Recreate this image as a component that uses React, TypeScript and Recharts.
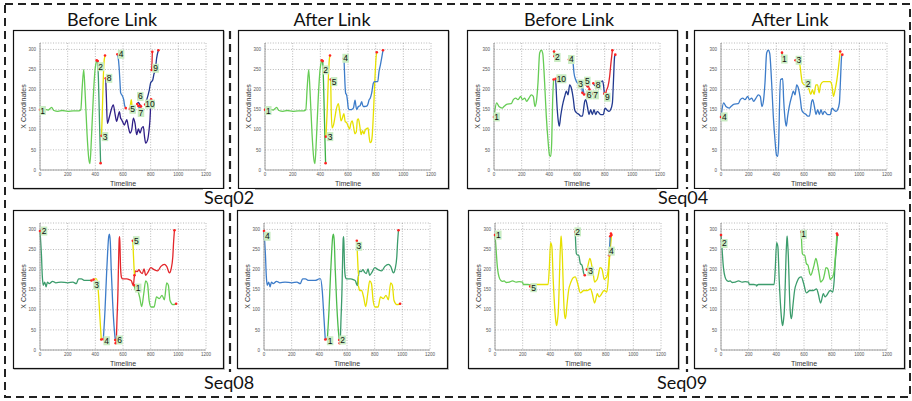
import React from 'react';
import { LineChart, Line, XAxis, YAxis, CartesianGrid, ReferenceDot } from 'recharts';

type P = [number, number];

// ---------- axes ----------
const X_TICKS = [0, 200, 400, 600, 800, 1000, 1200];
const Y_TICKS = [0, 50, 100, 150, 200, 250, 300];
const X_DOMAIN: [number, number] = [0, 1200];
const Y_DOMAIN: [number, number] = [0, 316];

// ---------- Seq02 ----------
const s02Green: P[] = [[0,150],[30,151],[60,149],[84,156],[100,148],[130,146],[160,148],[200,146],[240,147],[280,147],[295,150],[305,205],[316,250],[325,200],[340,90],[352,30],[361,16],[372,80],[385,180],[398,250],[410,273]];
const s02Teal2: P[] = [[417,271],[422,230],[428,150],[433,80],[438,17]];
const s02Yellow3: P[] = [[445,85],[450,140],[456,210],[462,265],[470,285]];
const s02Blue4: P[] = [[559,288],[565,280],[572,255],[578,220],[583,192],[595,185],[605,175],[612,160],[620,154]];
const s02Yellow5: P[] = [[650,152],[655,165],[660,175],[665,160],[670,150]];
const s02Navy6: P[] = [[703,164],[710,168],[718,165],[725,160]];
const s02Blue7: P[] = [[711,159],[720,155],[730,158]];
const s02Indigo8: P[] = [[475,228],[480,180],[487,116],[500,130],[515,150],[530,162],[542,140],[554,121],[565,135],[574,145],[582,130],[590,125],[600,118],[610,112],[620,120],[627,125],[640,105],[651,92],[663,100],[675,129],[687,116],[699,88],[711,102],[723,92],[735,104],[747,108],[755,85],[764,67],[778,75],[790,105],[795,125],[800,160],[803,176]];
const s02Red9: P[] = [[807,249],[810,270],[812,294]];
const s02Navy10: P[] = [[760,163],[771,174],[790,199],[800,217],[815,224],[824,239],[834,250],[843,278],[856,298]];
const s02aYellow3: P[] = [[440,83],[450,150],[458,230],[465,275],[470,285]];
const s02aYellow5: P[] = [[475,225],[478,160],[485,105],[495,112],[505,130],[515,150],[530,165],[540,145],[550,122],[560,130],[570,140],[580,120],[590,118],[600,110],[612,102],[620,115],[630,122],[640,108],[650,90],[660,95],[668,125],[675,127],[685,110],[695,88],[705,98],[715,90],[725,100],[735,103],[745,105],[752,85],[760,68],[768,70],[775,85],[785,150],[795,230],[803,280],[808,293]];
const s02aBlue: P[] = [[571,278],[574,250],[578,215],[583,191],[590,187],[597,170],[602,154],[610,150],[620,150],[632,152],[640,155],[651,174],[657,160],[663,150],[675,158],[687,160],[699,170],[705,162],[711,158],[722,158],[735,159],[745,165],[752,174],[762,180],[771,191],[783,216],[792,220],[800,220],[815,220],[824,245],[834,261],[843,278],[853,298]];

// ---------- Seq04 ----------
const s04Green: P[] = [[0,132],[5,145],[19,167],[36,158],[60,154],[72,158],[96,164],[125,165],[140,175],[157,179],[173,175],[193,183],[205,175],[222,179],[236,171],[253,179],[270,187],[284,183],[296,158],[308,175],[318,217],[330,291],[342,298],[352,291],[366,217],[378,134],[390,76],[402,36],[410,34],[417,67],[424,175],[431,225]];
const s04Teal2: P[] = [[434,295],[437,283]];
const s04Navy10: P[] = [[446,227],[453,175],[465,121],[472,109],[482,134],[494,159],[511,183],[523,196],[535,187],[547,212],[559,204],[574,175],[583,150],[598,142],[615,138],[627,134],[639,134],[656,171],[663,175],[675,158],[687,138],[699,150],[711,138],[723,150],[735,138],[747,146],[771,138],[790,138],[803,154],[815,150],[831,146],[843,150],[856,167],[863,217],[872,283],[877,287]];
const s04Blue4: P[] = [[542,275],[557,272],[571,266],[578,242],[590,225],[602,217],[622,212],[634,207],[639,192]];
const s04Blue3: P[] = [[639,212],[645,200],[651,188]];
const s04Red5: P[] = [[666,212],[675,206],[682,210],[690,200]];
const s04Blue6: P[] = [[672,190],[680,192],[686,186]];
const s04Blue7: P[] = [[715,190],[725,195],[730,188]];
const s04Navy8: P[] = [[718,216],[730,210],[745,214],[760,218],[775,220],[785,222],[792,210],[798,190]];
const s04Red9: P[] = [[807,191],[815,200],[824,208],[836,233],[843,258],[856,298]];
const s04aGreen1: P[] = [[441,292],[443,283]];
const s04aYellow: P[] = [[539,273],[555,270],[568,266],[578,240],[588,217],[605,212],[620,212],[637,200],[649,188],[661,200],[673,188],[686,212],[698,212],[710,192],[720,212],[740,220],[765,220],[789,220],[801,212],[813,183],[825,200],[838,225],[850,258],[862,295]];

// ---------- Seq08 ----------
const s08Teal2: P[] = [[0,296],[5,270],[10,240],[17,182],[24,161],[34,169],[44,157],[54,169],[66,165],[91,171],[115,167],[152,169],[201,167],[238,169],[262,165],[279,177],[299,177],[323,173],[348,173],[372,173]];
const s08Yellow3: P[] = [[387,175],[398,177],[409,177],[421,148],[433,82],[443,26]];
const s08Blue4: P[] = [[458,27],[470,100],[480,180],[490,250],[497,283],[502,288],[508,270],[515,200],[525,120],[535,60],[544,25]];
const s08Red6: P[] = [[547,17],[551,23],[557,80],[563,140],[568,220],[573,278],[576,282],[579,250],[583,200],[590,180],[598,177],[615,177],[629,177],[645,175],[661,172],[668,165],[675,160],[681,180],[691,197],[703,195],[715,200],[728,193],[740,190],[752,202],[764,186],[781,194],[801,205],[825,200],[850,197],[874,208],[899,213],[916,208],[936,192],[948,202],[960,232],[966,270],[972,298]];
const s08Yellow5: P[] = [[671,272],[675,240],[679,210],[683,186]];
const s08Green1: P[] = [[681,161],[691,148],[705,148],[720,132],[735,108],[750,140],[764,172],[777,165],[789,123],[803,107],[825,107],[842,132],[862,128],[882,136],[899,125],[916,167],[928,161],[940,123],[960,113],[984,115]];

// ---------- Seq09 ----------
const s09Green1: P[] = [[0,286],[5,265],[10,240],[15,215],[20,198],[29,182],[42,173],[55,171],[66,172],[80,168],[103,169],[127,172],[152,169],[175,170],[200,169],[203,163],[238,163],[262,161]];
const s09Yellow5: P[] = [[255,158],[270,163],[300,163],[340,163],[384,163],[392,200],[402,267],[411,257],[421,173],[433,98],[440,70],[446,61],[452,75],[458,98],[465,170],[470,232],[475,270],[478,283],[482,265],[487,232],[495,140],[500,100],[507,78],[513,85],[519,107],[532,148],[549,169],[565,180],[580,182],[598,165],[617,142],[642,148],[666,148],[691,152],[703,140],[720,117],[740,140],[752,132],[764,136],[789,148],[808,144],[818,173],[825,215],[835,257],[842,286]];
const s09Teal2: P[] = [[580,294],[584,260],[588,240],[598,236],[605,236],[617,215],[629,211],[642,190],[649,186]];
const s09Yellow3: P[] = [[664,200],[672,210],[686,228],[695,218],[703,203],[712,185],[720,169],[730,172],[740,177],[750,192],[759,205],[768,204],[776,198],[783,185],[789,175],[798,178],[808,182],[818,198],[825,225],[833,262],[838,290]];
const s09Blue4: P[] = [[825,236],[829,260],[833,283]];

// ---------- tags (label centre t, value, text) ----------
type Tag = [number, number, string];
const tags02b: Tag[] = [[19,148,'1'],[439,257,'2'],[470,83,'3'],[586,288,'4'],[670,151,'5'],[725,183,'6'],[730,143,'7'],[499,228,'8'],[836,253,'9'],[795,164,'10']];
const tags02a: Tag[] = [[24,148,'1'],[438,249,'2'],[470,83,'3'],[583,278,'4'],[499,220,'5']];
const tags04b: Tag[] = [[19,132,'1'],[458,280,'2'],[627,214,'3'],[559,275,'4'],[675,221,'5'],[687,187,'6'],[735,187,'7'],[752,212,'8'],[819,181,'9'],[487,227,'10']];
const tags04a: Tag[] = [[458,276,'1'],[629,215,'2'],[563,273,'3'],[24,132,'4']];
const tags08b: Tag[] = [[710,154,'1'],[29,296,'2'],[409,161,'3'],[482,23,'4'],[696,272,'5'],[575,25,'6']];
const tags08a: Tag[] = [[478,23,'1'],[568,25,'2'],[686,258,'3'],[24,283,'4']];
const tags09b: Tag[] = [[24,286,'1'],[598,294,'2'],[691,196,'3'],[842,246,'4'],[279,155,'5']];
const tags09a: Tag[] = [[598,288,'1'],[24,265,'2']];

const C = {
  light: '#66cc55', teal: '#3c9c6c', green: '#4cbb4c', dgreen: '#3cb043', yellow: '#e6e000',
  blue: '#3d7cc9', navy: '#22398f', indigo: '#2f1f87', red: '#e3262b',
};

interface Track { pts: P[]; color: string }
interface PanelSpec { left: number; top: number; tracks: Track[]; tags: Tag[] }

const panels: PanelSpec[] = [
  { left: 13, top: 30, tags: tags02b, tracks: [
    { pts: s02Green, color: C.light }, { pts: s02Teal2, color: C.teal }, { pts: s02Yellow3, color: C.yellow },
    { pts: s02Blue4, color: C.blue }, { pts: s02Indigo8, color: C.indigo }, { pts: s02Yellow5, color: C.yellow },
    { pts: s02Navy6, color: C.navy }, { pts: s02Blue7, color: C.blue }, { pts: s02Navy10, color: C.navy },
    { pts: s02Red9, color: C.red } ] },
  { left: 238, top: 30, tags: tags02a, tracks: [
    { pts: s02Green, color: C.light }, { pts: s02Teal2, color: C.dgreen }, { pts: s02aYellow3, color: C.yellow },
    { pts: s02aYellow5, color: C.yellow }, { pts: s02aBlue, color: C.blue } ] },
  { left: 467, top: 30, tags: tags04b, tracks: [
    { pts: s04Green, color: C.light }, { pts: s04Teal2, color: C.light }, { pts: s04Navy10, color: C.navy },
    { pts: s04Blue4, color: C.blue }, { pts: s04Blue3, color: C.blue }, { pts: s04Navy8, color: C.navy },
    { pts: s04Red5, color: C.red }, { pts: s04Blue6, color: C.blue }, { pts: s04Blue7, color: C.blue },
    { pts: s04Red9, color: C.red } ] },
  { left: 694, top: 30, tags: tags04a, tracks: [
    { pts: [...s04Green, ...s04Navy10], color: C.blue }, { pts: s04aGreen1, color: C.light },
    { pts: s04aYellow, color: C.yellow } ] },
  { left: 13, top: 210, tags: tags08b, tracks: [
    { pts: s08Teal2, color: C.teal }, { pts: s08Yellow3, color: C.yellow }, { pts: s08Blue4, color: C.blue },
    { pts: s08Red6, color: C.red }, { pts: s08Yellow5, color: C.yellow }, { pts: s08Green1, color: C.light } ] },
  { left: 237, top: 210, tags: tags08a, tracks: [
    { pts: [...s08Teal2, ...s08Yellow3], color: C.blue }, { pts: s08Blue4, color: C.green },
    { pts: s08Red6, color: C.teal }, { pts: [...s08Yellow5, ...s08Green1], color: C.yellow } ] },
  { left: 468, top: 210, tags: tags09b, tracks: [
    { pts: s09Green1, color: C.light }, { pts: s09Yellow5, color: C.yellow }, { pts: s09Teal2, color: C.teal },
    { pts: s09Yellow3, color: C.yellow }, { pts: s09Blue4, color: C.blue } ] },
  { left: 694, top: 210, tags: tags09a, tracks: [
    { pts: [...s09Green1, ...s09Yellow5], color: C.teal }, { pts: [...s09Teal2, ...s09Yellow3], color: C.light } ] },
];

const headers: [number, string][] = [[112, 'Before Link'], [332, 'After Link'], [569, 'Before Link'], [790, 'After Link']];
const seqLabels: [number, number, string][] = [[204, 204, 'Seq02'], [658, 204, 'Seq04'], [204, 389, 'Seq08'], [657, 389, 'Seq09']];

const PW = 210;
const PH = 158;
const M = { top: 13, right: 17, bottom: 0, left: 5 };
const YW = 22;
const XH = 18;
const SANS = 'Liberation Sans, Arial, sans-serif';
const TITLE = 'Lato, "Open Sans", sans-serif';

const toData = (pts: P[]) => pts.map(([t, v]) => ({ t, v }));

const XTitle = (props: any) => {
  const vb = props.viewBox || {};
  const x = vb.width != null ? vb.x + vb.width / 2 : M.left + YW + (PW - M.left - YW - M.right) / 2;
  const y = vb.y != null ? vb.y + 15.5 : PH - 2.5;
  return <text x={x} y={y} textAnchor="middle" fontSize={7} fill="#333" fontFamily={SANS}>Timeline</text>;
};

const YTitle = (props: any) => {
  const vb = props.viewBox || {};
  const cy = vb.height != null ? vb.y + vb.height / 2 : M.top + (PH - M.top - XH) / 2;
  return (
    <text transform={`translate(10,${cy}) rotate(-90)`} textAnchor="middle" dominantBaseline="central" fontSize={7} fill="#333" fontFamily={SANS}>
      X Coordinates
    </text>
  );
};

const tagShape = (text: string) => (p: any) => {
  const w = text.length > 1 ? 10 : 6.5;
  const h = 9;
  return (
    <g>
      <rect x={p.cx - w / 2} y={p.cy - h / 2} width={w} height={h} fill="#c9ecc2" />
      <text x={p.cx} y={p.cy} dy={3} textAnchor="middle" fontSize={8.5} fill="#111" fontFamily={SANS}>{text}</text>
    </g>
  );
};

function Panel({ spec }: { spec: PanelSpec }) {
  const ends: P[] = [];
  spec.tracks.forEach((tr) => { ends.push(tr.pts[0]); ends.push(tr.pts[tr.pts.length - 1]); });
  return (
    <div style={{ position: 'absolute', left: spec.left, top: spec.top, width: PW, height: PH }}>
      <LineChart width={PW} height={PH} margin={M}>
        <CartesianGrid stroke="#8a8a8a" strokeDasharray="1 1.6" strokeWidth={0.6} />
        <XAxis type="number" dataKey="t" domain={X_DOMAIN} ticks={X_TICKS} interval={0} height={XH}
          tickLine={false} tickSize={1} tickMargin={2} axisLine={{ stroke: '#8a8a8a', strokeWidth: 0.8 }}
          tick={{ fontSize: 4.5, fill: '#555', fontFamily: SANS }} label={<XTitle />} />
        <YAxis type="number" dataKey="v" domain={Y_DOMAIN} ticks={Y_TICKS} interval={0} width={YW}
          tickLine={false} tickSize={1} tickMargin={3} axisLine={{ stroke: '#8a8a8a', strokeWidth: 0.8 }}
          tick={{ fontSize: 4.5, fill: '#555', fontFamily: SANS }} label={<YTitle />} />
        {spec.tracks.map((tr, i) => (
          <Line key={`l${i}`} data={toData(tr.pts)} dataKey="v" type="monotone" stroke={tr.color}
            strokeWidth={1.3} dot={false} activeDot={false} isAnimationActive={false} />
        ))}
        {ends.map(([t, v], i) => (
          <ReferenceDot key={`e${i}`} x={t} y={v} r={1.3} fill="#ff2222" stroke="none" ifOverflow="visible" />
        ))}
        {spec.tags.map(([t, v, text], i) => (
          <ReferenceDot key={`g${i}`} x={t} y={v} r={0} ifOverflow="visible" shape={tagShape(text)} />
        ))}
      </LineChart>
    </div>
  );
}

export default function App() {
  return (
    <div style={{ position: 'absolute', left: 0, top: 0, width: 912, height: 401, background: '#fff', overflow: 'hidden' }}>
      <svg width={912} height={401} style={{ position: 'absolute', left: 0, top: 0 }}>
        <rect x={5} y={4} width={905} height={393} fill="none" stroke="#222" strokeWidth={2} strokeDasharray="8 5" />
        <line x1={230} y1={31} x2={230} y2={372} stroke="#222" strokeWidth={2.2} strokeDasharray="8 5" />
        <line x1={687} y1={31} x2={687} y2={372} stroke="#222" strokeWidth={2.2} strokeDasharray="8 5" />
        {panels.map((p, i) => (
          <g key={`f${i}`}>
            <rect x={p.left + 1.5} y={p.top + 1.5} width={PW} height={PH} fill="none" stroke="#c8c8c8" strokeWidth={1} />
            <rect x={p.left + 0.5} y={p.top + 0.5} width={PW} height={PH} fill="#fff" stroke="#111" strokeWidth={1.2} />
          </g>
        ))}
        {headers.map(([x, s], i) => (
          <text key={`h${i}`} x={x} y={26} textAnchor="middle" fontSize={18} fill="#111" fontFamily={TITLE}>{s}</text>
        ))}
        {seqLabels.map(([x, y, s], i) => (
          <g key={`s${i}`}>
            <rect x={x - 1} y={y - 15} width={52} height={20} fill="#fff" />
            <text x={x} y={y} fontSize={18} fill="#111" fontFamily={TITLE}>{s}</text>
          </g>
        ))}
      </svg>
      {panels.map((p, i) => <Panel key={`p${i}`} spec={p} />)}
    </div>
  );
}
